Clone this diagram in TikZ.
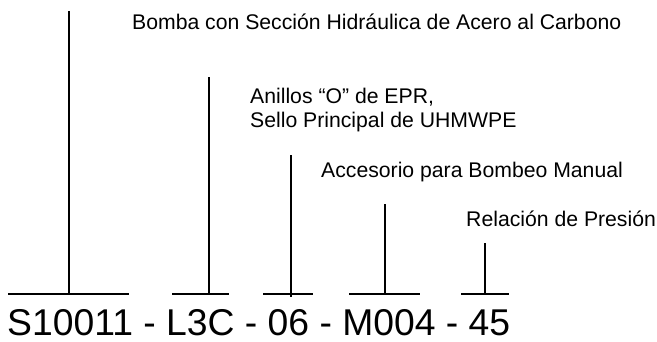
\documentclass[tikz,border=0pt]{standalone}
\usepackage{fontspec}
\setmainfont{Liberation Sans}
\begin{document}
\begin{tikzpicture}[x=1pt,y=1pt,
  lbl/.style={anchor=base west,inner sep=0pt,font=\fontsize{21.2}{23.5}\selectfont},
  code/.style={anchor=base west,inner sep=0pt,font=\fontsize{37.3}{40}\selectfont},
  ln/.style={line width=2pt,line cap=butt}]
\useasboundingbox (0,0) rectangle (657,341);
% labels (y = 341 - image y)
\node[lbl] (bomba) at (132,312) {Bomba con Sección Hidráulica de Acero al Carbono};
\node[lbl] (anillosA) at (250,237.5) {Anillos “O” de EPR,};
\node[lbl] (anillosB) at (250,214) {Sello Principal de UHMWPE};
\node[lbl] (acc) at (321,164) {Accesorio para Bombeo Manual};
\node[lbl] (rel) at (466,115) {Relación de Presión};
\node[code] (codigo) at (7,5.5) {S10011 - L3C - 06 - M004 - 45};
% bars
\coordinate (b1l) at (8,47); \coordinate (b1r) at (129,47);
\coordinate (b2l) at (172,47); \coordinate (b2r) at (229,47);
\coordinate (b3l) at (263,47); \coordinate (b3r) at (313,47);
\coordinate (b4l) at (349,47); \coordinate (b4r) at (420,47);
\coordinate (b5l) at (461,47); \coordinate (b5r) at (509,47);
\draw[ln] (b1l) -- (b1r);
\draw[ln] (b2l) -- (b2r);
\draw[ln] (b3l) -- (b3r);
\draw[ln] (b4l) -- (b4r);
\draw[ln] (b5l) -- (b5r);
% verticals
\coordinate (v1t) at (69,330); \coordinate (v1b) at (69,47);
\coordinate (v2t) at (209,264); \coordinate (v2b) at (209,47);
\coordinate (v3t) at (291,186); \coordinate (v3b) at (291,44);
\coordinate (v4t) at (385,137); \coordinate (v4b) at (385,47);
\coordinate (v5t) at (485,98); \coordinate (v5b) at (485,47);
\draw[ln] (v1t) -- (v1b);
\draw[ln] (v2t) -- (v2b);
\draw[ln] (v3t) -- (v3b);
\draw[ln] (v4t) -- (v4b);
\draw[ln] (v5t) -- (v5b);
\end{tikzpicture}
\end{document}
